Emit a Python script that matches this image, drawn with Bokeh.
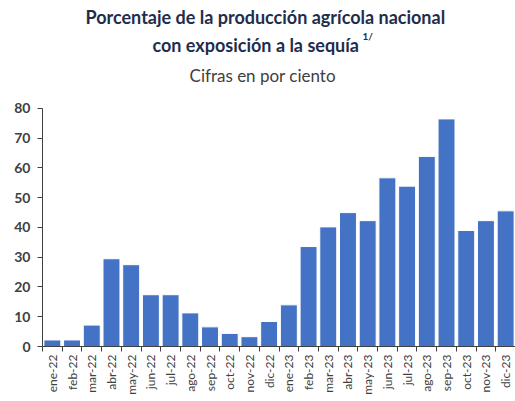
from bokeh.plotting import figure
from bokeh.models import Label, FixedTicker, Range1d, ColumnDataSource
from bokeh.embed import file_html
from bokeh.resources import INLINE
import math

months = ["ene-22", "feb-22", "mar-22", "abr-22", "may-22", "jun-22", "jul-22", "ago-22",
          "sep-22", "oct-22", "nov-22", "dic-22", "ene-23", "feb-23", "mar-23", "abr-23",
          "may-23", "jun-23", "jul-23", "ago-23", "sep-23", "oct-23", "nov-23", "dic-23"]
values = [2.2, 2.2, 7.2, 29.5, 27.5, 17.4, 17.4, 11.3, 6.6, 4.4, 3.3, 8.4,
          14.0, 33.6, 40.2, 45.0, 42.3, 56.7, 53.9, 63.9, 76.5, 39.0, 42.3, 45.6]
y_ticks = [0, 10, 20, 30, 40, 50, 60, 70, 80]

FONT = "Lato"
idx = list(range(len(months)))
src = ColumnDataSource(dict(x=idx, top=values))

# the plot area also holds the title block; the value axis is bounded to 0-80
Y_TOP = 116.3
p = figure(width=515, height=401, output_backend="svg", toolbar_location=None,
           x_range=Range1d(-0.5, len(months) - 0.5), y_range=Range1d(0, Y_TOP),
           min_border_left=42, min_border_right=0, min_border_top=0, min_border_bottom=55)
p.vbar(x="x", top="top", width=0.86, source=src, fill_color="#4472C4",
       line_color="#FFFFFF", line_width=1)

p.outline_line_color = None
p.xgrid.visible = False
p.ygrid.visible = False

# y axis
p.yaxis.ticker = FixedTicker(ticks=y_ticks)
p.yaxis.bounds = (y_ticks[0], y_ticks[-1])
p.yaxis.axis_line_color = "#404040"
p.yaxis.major_tick_line_color = "#404040"
p.yaxis.major_tick_out = 5
p.yaxis.major_tick_in = 0
p.yaxis.minor_tick_line_color = None
p.yaxis.major_label_text_font = FONT
p.yaxis.major_label_text_font_style = "bold"
p.yaxis.major_label_text_font_size = "14px"
p.yaxis.major_label_text_color = "#404040"
p.yaxis.major_label_standoff = 7

# x axis: labels at centres, ticks at category boundaries
p.xaxis.ticker = FixedTicker(ticks=idx, minor_ticks=[i - 0.5 for i in range(len(months) + 1)])
p.xaxis.major_label_overrides = {i: m for i, m in enumerate(months)}
p.xaxis.major_tick_line_color = None
p.xaxis.major_tick_out = 0
p.xaxis.major_tick_in = 0
p.xaxis.minor_tick_line_color = "#404040"
p.xaxis.minor_tick_out = 5
p.xaxis.minor_tick_in = 0
p.xaxis.axis_line_color = "#404040"
p.xaxis.major_label_orientation = math.pi / 2
p.xaxis.major_label_text_font = FONT
p.xaxis.major_label_text_font_size = "12px"
p.xaxis.major_label_text_color = "#404040"
p.xaxis.major_label_standoff = 3
p.xaxis.axis_label_standoff = 0

TITLE_COLOR = "#1F2D4D"
p.add_layout(Label(x=1.68, y=110.6, text="Porcentaje de la producción agrícola nacional",
                   text_align="left", text_baseline="middle", text_font=FONT,
                   text_font_size="18px", text_font_style="bold", text_color=TITLE_COLOR))
p.add_layout(Label(x=5.08, y=101.2, text="con exposición a la sequía",
                   text_align="left", text_baseline="middle", text_font=FONT,
                   text_font_size="18px", text_font_style="bold", text_color=TITLE_COLOR))
p.add_layout(Label(x=15.74, y=104.3, text="1/",
                   text_align="left", text_baseline="middle", text_font=FONT,
                   text_font_size="10px", text_font_style="bold", text_color=TITLE_COLOR))
p.add_layout(Label(x=6.96, y=91.1, text="Cifras en por ciento",
                   text_align="left", text_baseline="middle", text_font=FONT,
                   text_font_size="17px", text_font_style="normal", text_color="#404040"))

open("out.html", "w").write(file_html(p, INLINE))
